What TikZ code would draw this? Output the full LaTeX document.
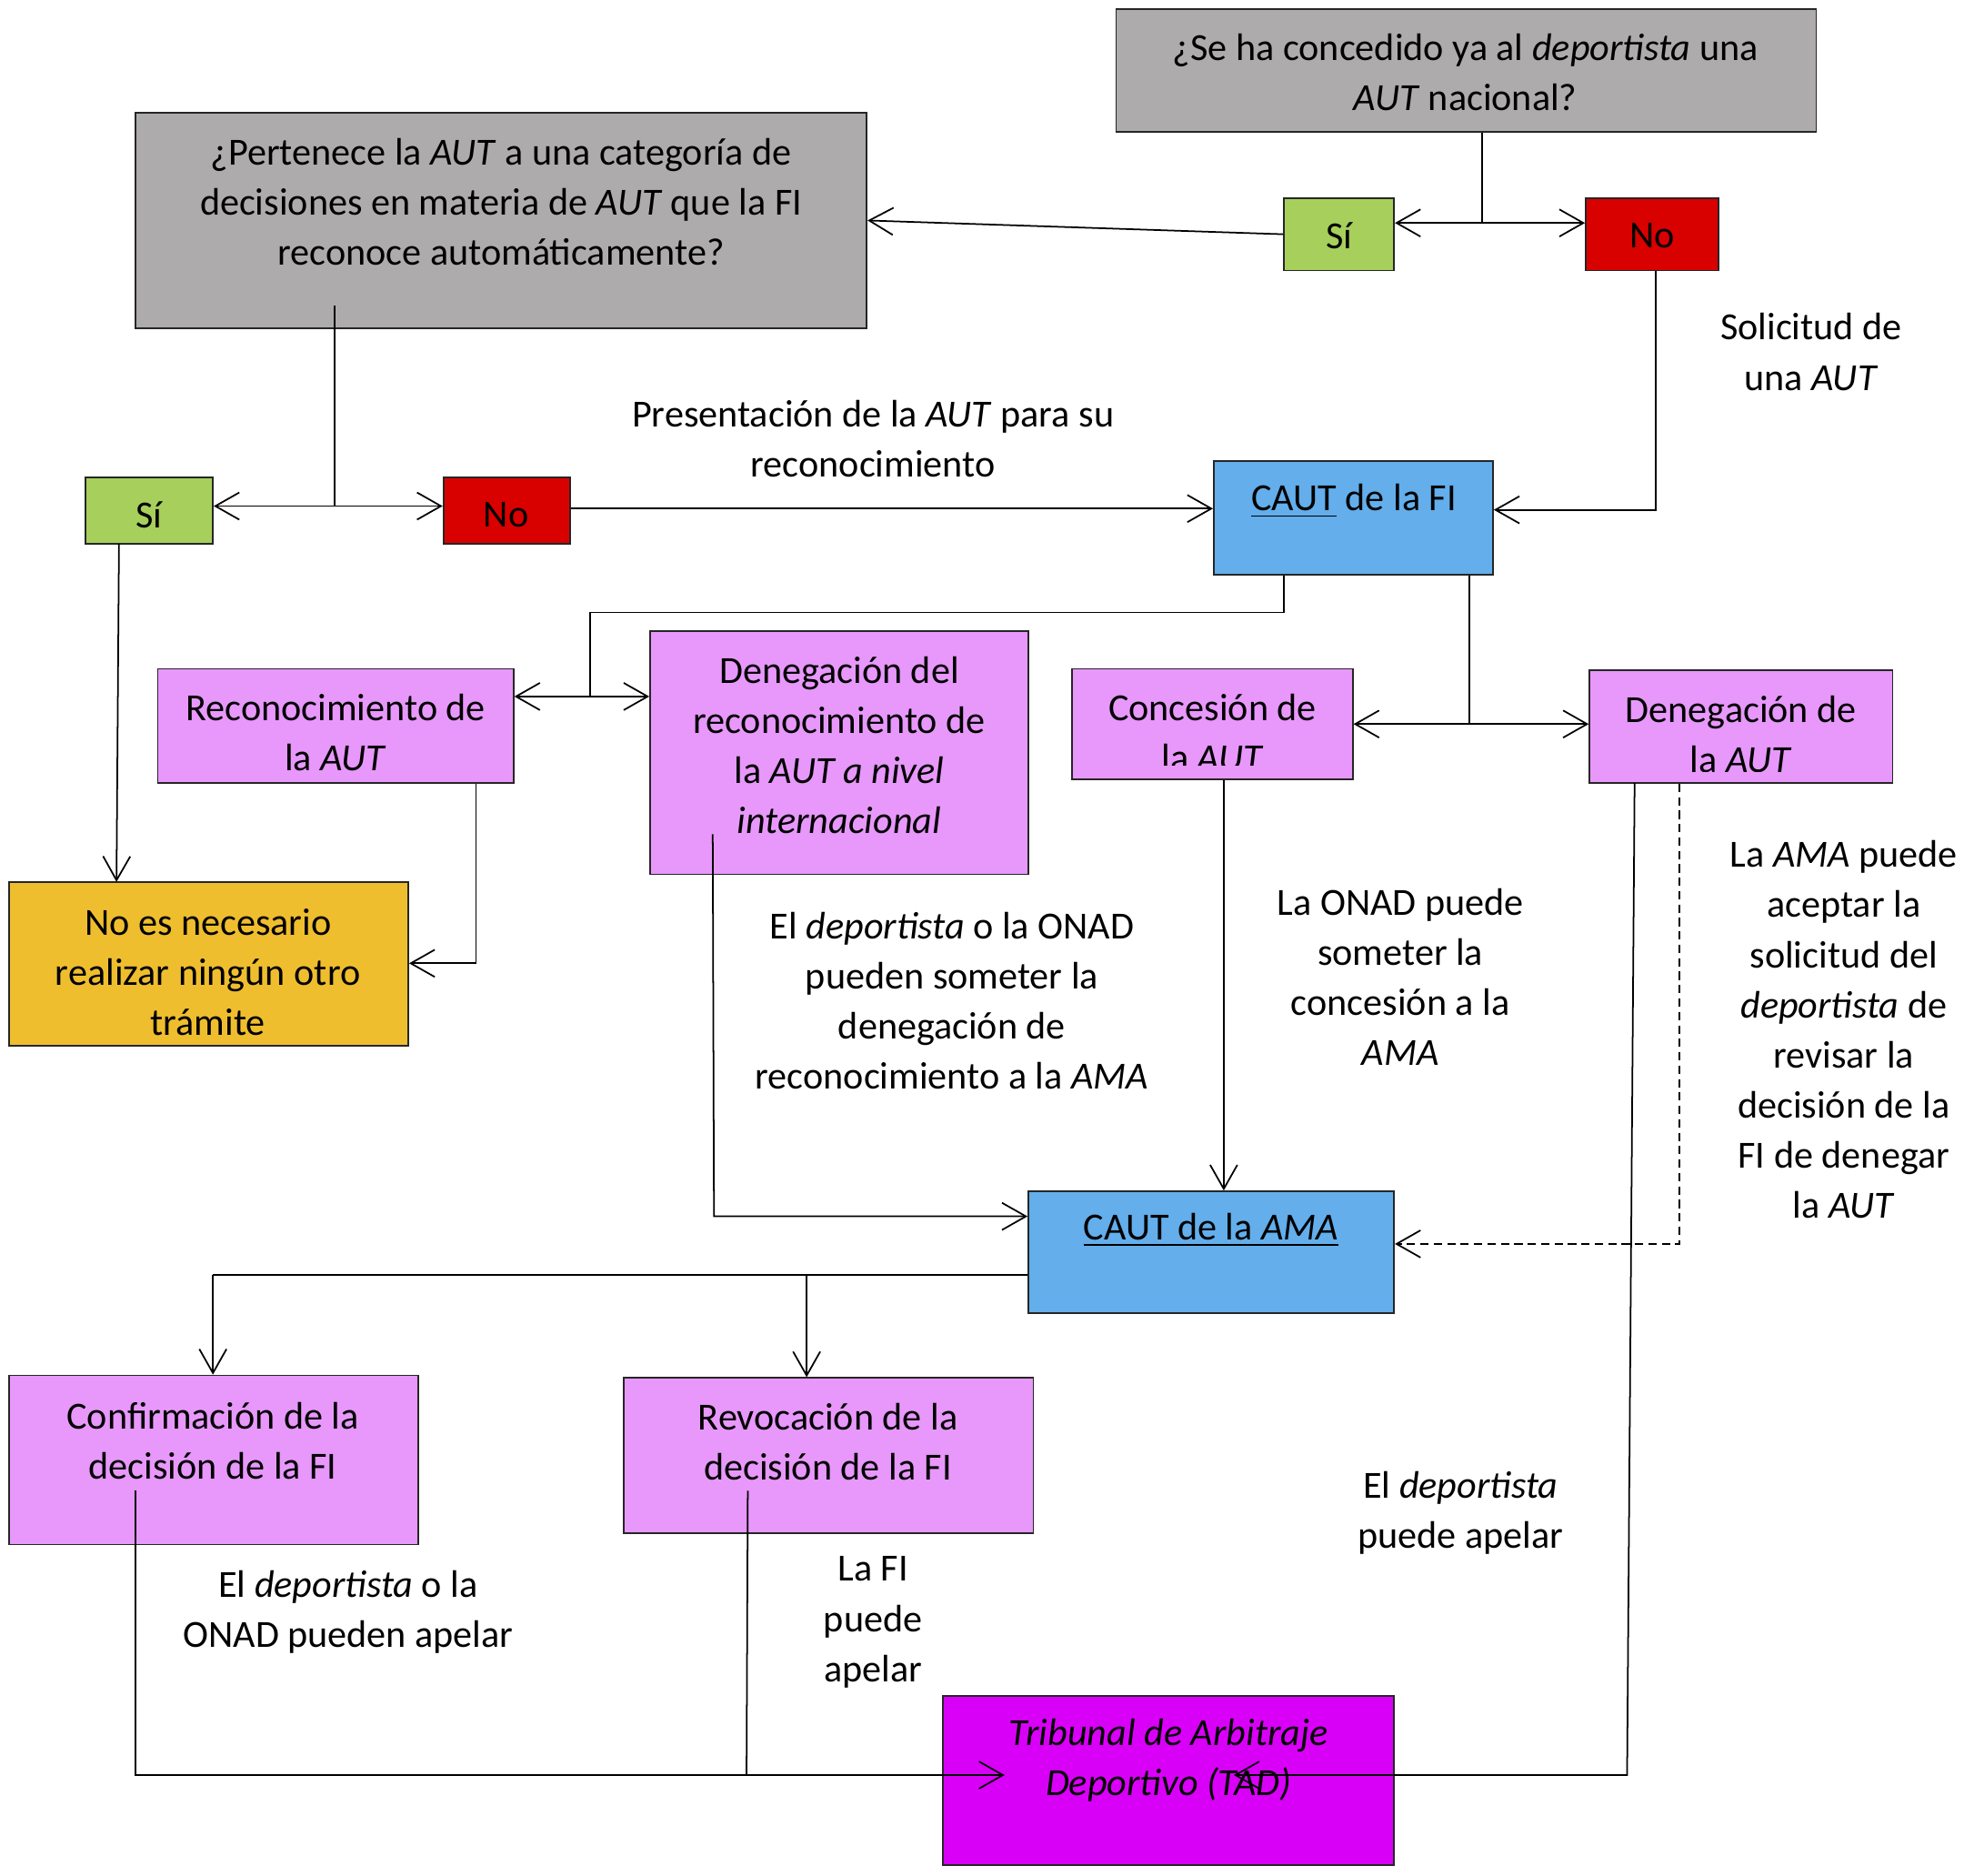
\documentclass[tikz,border=0pt]{standalone}
\usepackage{fontspec}
\setmainfont{Carlito}
\usetikzlibrary{arrows.meta,fit,calc}
\definecolor{qgray}{RGB}{173,171,172}
\definecolor{ygreen}{RGB}{166,207,92}
\definecolor{nred}{RGB}{217,0,0}
\definecolor{cblue}{RGB}{99,174,235}
\definecolor{lviolet}{RGB}{231,152,250}
\definecolor{norange}{RGB}{239,190,46}
\definecolor{tmag}{RGB}{217,0,248}
\begin{document}
\begin{tikzpicture}[x=0.013776cm,y=-0.013776cm,
  every node/.style={font=\fontsize{12}{15.7}\selectfont},
  box/.style={draw=black!85, line width=0.5pt, inner sep=0pt, rectangle},
  txt/.style={align=center, inner sep=0pt},
  conn/.style={line width=0.5pt, draw=black},
  arr/.style={-{Straight Barb[length=7.5pt,width=8.5pt]}},
  dsh/.style={dash pattern=on 2.6pt off 1.6pt}]
\useasboundingbox (0,0) rectangle (1568,1497);
% ---------- boxes ----------
\node[box,fill=qgray,fit={(891,7)(1450,105)}] (q1) {};
\node[txt] (q1t) at (1170,58) {¿Se ha concedido ya al \textit{deportista} una\\\textit{AUT} nacional?};
\node[box,fill=ygreen,fit={(1025,158)(1113,216)}] (s1) {};
\node[txt] (s1t) at (1069,188) {Sí};
\node[box,fill=nred,fit={(1266,158)(1372,216)}] (n1) {};
\node[txt] (n1t) at (1319,188) {No};
\node[box,fill=qgray,fit={(108,90)(692,262)}] (q2) {};
\node[txt] (q2t) at (400,161) {¿Pertenece la \textit{AUT} a una categoría de\\decisiones en materia de \textit{AUT} que la FI\\reconoce automáticamente?};
\node[box,fill=ygreen,fit={(68,381)(170,434)}] (s2) {};
\node[txt] (s2t) at (119,411) {Sí};
\node[box,fill=nred,fit={(354,381)(455,434)}] (n2) {};
\node[txt] (n2t) at (404,411) {No};
\node[box,fill=cblue,fit={(969,368)(1192,459)}] (caf) {};
\node[txt] (caft) at (1081,400) {\underline{CAUT} de la FI};
\node[box,fill=lviolet,fit={(126,534)(410,625)}] (rec) {};
\node[txt] (rect) at (268,585) {Reconocimiento de\\la \textit{AUT}};
\node[box,fill=lviolet,fit={(519,504)(821,698)}] (dd) {};
\node[txt] (ddt) at (670,595) {Denegación del\\reconocimiento de\\la \textit{AUT a nivel}\\\textit{internacional}};
\node[box,fill=norange,fit={(7,704)(326,835)}] (nn) {};
\node[txt] (nnt) at (166,776) {No es necesario\\realizar ningún otro\\trámite};
\node[box,fill=lviolet,fit={(856,534)(1080,622)}] (con) {};
\begin{scope}
\clip (856,534) rectangle (1080,611);
\node[txt] (cont) at (968,585) {Concesión de\\la \textit{AUT}};
\end{scope}
\node[box,fill=lviolet,fit={(1269,535)(1511,625)}] (dla) {};
\begin{scope}
\clip (1269,535) rectangle (1511,616);
\node[txt] (dlat) at (1390,586) {Denegación de\\la \textit{AUT}};
\end{scope}
\node[box,fill=cblue,fit={(821,951)(1113,1048)}] (caa) {};
\node[txt] (caat) at (967,982) {\underline{CAUT de la \textit{AMA}}};
\node[box,fill=lviolet,fit={(7,1098)(334,1233)}] (conf) {};
\node[txt] (conft) at (170,1150) {Confirmación de la\\decisión de la FI};
\node[box,fill=lviolet,fit={(498,1100)(825,1224)}] (rev) {};
\node[txt] (revt) at (661,1151) {Revocación de la\\decisión de la FI};
\node[box,fill=tmag,fit={(753,1354)(1113,1489)}] (tad) {};
\node[txt] (tadt) at (933,1405) {\textit{Tribunal de Arbitraje}\\\textit{Deportivo (TAD)}};
% ---------- labels ----------
\node[txt] (l1) at (697,350) {Presentación de la \textit{AUT} para su\\reconocimiento};
\node[txt] (l2) at (1446,281) {Solicitud de\\una \textit{AUT}};
\node[txt] (l3) at (760,799) {El \textit{deportista} o la ONAD\\pueden someter la\\denegación de\\reconocimiento a la \textit{AMA}};
\node[txt] (l4) at (1118,780) {La ONAD puede\\someter la\\concesión a la\\\textit{AMA}};
\node[txt] (l5) at (1472,822) {La \textit{AMA} puede\\aceptar la\\solicitud del\\\textit{deportista} de\\revisar la\\decisión de la\\FI de denegar\\la \textit{AUT}};
\node[txt] (l6) at (278,1287) {El \textit{deportista} o la\\ONAD pueden apelar};
\node[txt] (l7) at (697,1295) {La FI\\puede\\apelar};
\node[txt] (l8) at (1166,1208) {El \textit{deportista}\\puede apelar};
% ---------- connectors ----------
\coordinate (j1) at (1183,178);
\draw[conn] (q1.south -| j1) -- (j1);
\draw[conn,arr] (j1) -- (j1 -| s1.east);
\draw[conn,arr] (j1) -- (j1 -| n1.west);
\draw[conn,arr] (s1.west) -- (q2.east);
\coordinate (q2in) at (267,244);
\coordinate (j2) at (267,404);
\draw[conn] (q2in) -- (j2);
\draw[conn,arr] (j2) -- (j2 -| s2.east);
\draw[conn,arr] (j2) -- (j2 -| n2.west);
\coordinate (j3) at (455,406);
\draw[conn,arr] (n2.east |- j3) -- (j3 -| caf.west);
\coordinate (j4) at (1322,407);
\draw[conn,arr] (n1.south -| j4) -- (j4) -- (j4 -| caf.east);
\coordinate (j5a) at (1025,489);
\coordinate (j5b) at (471,556);
\draw[conn] (caf.south -| j5a) -- (j5a) -| (j5b);
\draw[conn,arr] (j5b) -- (j5b -| rec.east);
\draw[conn,arr] (j5b) -- (j5b -| dd.west);
\coordinate (j6) at (1173,578);
\draw[conn] (caf.south -| j6) -- (j6);
\draw[conn,arr] (j6) -- (j6 -| con.east);
\draw[conn,arr] (j6) -- (j6 -| dla.west);
\coordinate (j7) at (380,769);
\draw[conn,arr] (rec.south -| j7) -- (j7) -- (j7 -| nn.east);
\coordinate (j8a) at (95,434);
\coordinate (j8b) at (93,704);
\draw[conn,arr] (j8a) -- (j8b);
\coordinate (j9a) at (569,666);
\coordinate (j9b) at (570,971);
\draw[conn,arr] (j9a) -- (j9b) -- (j9b -| caa.west);
\coordinate (j10) at (977,622);
\draw[conn,arr] (con.south -| j10) -- (caa.north -| j10);
\coordinate (j11) at (1341,993);
\draw[conn,arr,dsh] (dla.south -| j11) -- (j11) -- (j11 -| caa.east);
\coordinate (j12) at (170,1018);
\coordinate (j12b) at (644,1018);
\draw[conn] (caa.west |- j12) -- (j12);
\draw[conn,arr] (j12) -- (conf.north -| j12);
\draw[conn,arr] (j12b) -- (rev.north -| j12b);
\coordinate (j13a) at (108,1190);
\coordinate (j13b) at (108,1417);
\coordinate (j13c) at (802,1417);
\draw[conn,arr] (j13a) -- (j13b) -- (j13c);
\coordinate (j14a) at (597,1190);
\coordinate (j14b) at (596,1417);
\draw[conn] (j14a) -- (j14b);
\coordinate (j15a) at (1305,625);
\coordinate (j15b) at (1299,1417);
\coordinate (j15c) at (985,1417);
\draw[conn,arr] (j15a) -- (j15b) -- (j15c);
\end{tikzpicture}
\end{document}
